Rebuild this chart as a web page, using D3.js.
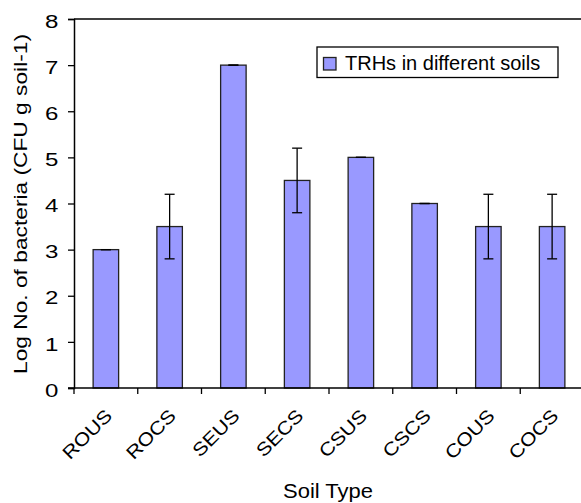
<!DOCTYPE html>
<html>
<head>
<meta charset="utf-8">
<script src="https://d3js.org/d3.v7.min.js"></script>
<style>
  body { margin: 0; background: #fff; }
  svg { display: block; font-family: "Liberation Sans", Arial, sans-serif; }
</style>
</head>
<body>
<div id="chart"></div>
<script>
// --- data ---
const soilTypes = ["ROUS", "ROCS", "SEUS", "SECS", "CSUS", "CSCS", "COUS", "COCS"];
const logCounts = [3, 3.5, 7, 4.5, 5, 4, 3.5, 3.5];
const errors = [0, 0.7, 0, 0.7, 0, 0, 0.7, 0.7];
const yTicks = [0, 1, 2, 3, 4, 5, 6, 7, 8];

const W = 581, H = 503;
const margin = { left: 74, top: 19, right: -3, bottom: 115 };
const innerW = W - margin.left - margin.right;
const innerH = H - margin.top - margin.bottom;

// text in the original looks a bit wider than plain Arial
const stretch = 1.18;

const svg = d3.select("#chart").append("svg")
  .attr("width", W)
  .attr("height", H);

const g = svg.append("g")
  .attr("transform", `translate(${margin.left},${margin.top})`);

const x = d3.scaleBand()
  .domain(soilTypes)
  .range([0, innerW])
  .paddingInner(0.6)
  .paddingOuter(0.3);

const y = d3.scaleLinear()
  .domain([0, 8])
  .range([innerH, 0]);

// plot frame (top line)
g.append("line")
  .attr("x1", 0).attr("x2", innerW)
  .attr("y1", 0).attr("y2", 0)
  .attr("stroke", "#000").attr("stroke-width", 1.5);

// bars
g.selectAll("rect.bar")
  .data(soilTypes)
  .enter()
  .append("rect")
  .attr("class", "bar")
  .attr("x", d => x(d))
  .attr("y", (d, i) => y(logCounts[i]))
  .attr("width", x.bandwidth())
  .attr("height", (d, i) => innerH - y(logCounts[i]))
  .attr("fill", "#9999ff")
  .attr("stroke", "#222")
  .attr("stroke-width", 1.3);

// error bars
const capW = 10;
const eb = g.selectAll("g.err")
  .data(soilTypes)
  .enter()
  .append("g")
  .attr("class", "err")
  .attr("stroke", "#000")
  .attr("stroke-width", 1.3);

eb.append("line")
  .attr("x1", d => x(d) + x.bandwidth() / 2)
  .attr("x2", d => x(d) + x.bandwidth() / 2)
  .attr("y1", (d, i) => y(logCounts[i] - errors[i]))
  .attr("y2", (d, i) => y(logCounts[i] + errors[i]));
eb.append("line")
  .attr("x1", d => x(d) + x.bandwidth() / 2 - capW / 2)
  .attr("x2", d => x(d) + x.bandwidth() / 2 + capW / 2)
  .attr("y1", (d, i) => y(logCounts[i] + errors[i]))
  .attr("y2", (d, i) => y(logCounts[i] + errors[i]));
eb.append("line")
  .attr("x1", d => x(d) + x.bandwidth() / 2 - capW / 2)
  .attr("x2", d => x(d) + x.bandwidth() / 2 + capW / 2)
  .attr("y1", (d, i) => y(logCounts[i] - errors[i]))
  .attr("y2", (d, i) => y(logCounts[i] - errors[i]));

// y axis
const yAxis = g.append("g")
  .call(d3.axisLeft(y).tickValues(yTicks).tickSize(6).tickPadding(10));
yAxis.select(".domain").attr("stroke-width", 1.5);
yAxis.selectAll(".tick line").attr("stroke-width", 1.3);
yAxis.selectAll("text")
  .attr("font-size", 18.5)
  .attr("fill", "#000")
  .attr("x", 0)
  .attr("dy", "0.44em")
  .attr("transform", `translate(-15.5,0) scale(1.3,1)`);

// x axis: ticks between categories
const step = x.step();
const xBounds = soilTypes.map((d, i) => i * step);
const xAxis = g.append("g")
  .attr("transform", `translate(0,${innerH})`);
xAxis.append("line")
  .attr("x1", -6).attr("x2", innerW)
  .attr("stroke", "#000").attr("stroke-width", 1.5);
xAxis.selectAll("line.tk")
  .data(xBounds)
  .enter()
  .append("line")
  .attr("class", "tk")
  .attr("x1", d => d).attr("x2", d => d)
  .attr("y1", 0).attr("y2", 6)
  .attr("stroke", "#000").attr("stroke-width", 1.3);
xAxis.selectAll("text")
  .data(soilTypes)
  .enter()
  .append("text")
  .attr("transform", d => `translate(${x(d) + x.bandwidth() / 2 + 7.5},${29}) rotate(-45) scale(${stretch - 0.03},1)`)
  .attr("text-anchor", "end")
  .attr("font-size", 18.5)
  .text(d => d);

// axis titles
svg.append("text")
  .attr("transform", `translate(${27},${204}) rotate(-90)`)
  .attr("text-anchor", "middle")
  .attr("font-size", 18.5)
  .attr("textLength", 340)
  .attr("lengthAdjust", "spacingAndGlyphs")
  .text("Log No. of bacteria (CFU g soil-1)");

svg.append("text")
  .attr("x", 328)
  .attr("y", 497.5)
  .attr("text-anchor", "middle")
  .attr("font-size", 20)
  .attr("textLength", 90)
  .attr("lengthAdjust", "spacingAndGlyphs")
  .text("Soil Type");

// legend
const legend = svg.append("g").attr("transform", "translate(317,47)");
legend.append("rect")
  .attr("width", 241).attr("height", 30.5)
  .attr("fill", "#fff").attr("stroke", "#000").attr("stroke-width", 1.3);
legend.append("rect")
  .attr("x", 6.5).attr("y", 10.5)
  .attr("width", 12.5).attr("height", 12.5)
  .attr("fill", "#9999ff").attr("stroke", "#222").attr("stroke-width", 1.3);
legend.append("text")
  .attr("x", 28).attr("y", 23)
  .attr("font-size", 20)
  .text("TRHs in different soils");
</script>
</body>
</html>
